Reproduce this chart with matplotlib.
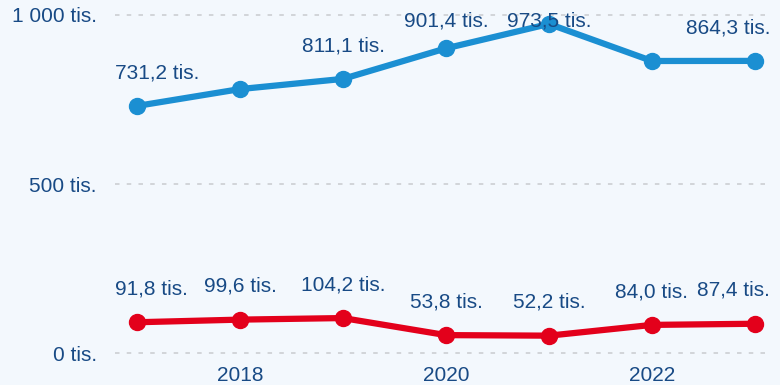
import matplotlib
matplotlib.use("Agg")
import matplotlib.pyplot as plt

years = [2017, 2018, 2019, 2020, 2021, 2022, 2023]
blue_values = [731.2, 781.0, 811.1, 901.4, 973.5, 864.0, 864.3]
blue_show_label = [True, False, True, True, True, False, True]
red_values = [91.8, 99.6, 104.2, 53.8, 52.2, 84.0, 87.4]
red_show_label = [True, True, True, True, True, True, True]
y_ticks = [0, 500, 1000]
x_ticks = [2018, 2020, 2022]

BG = "#f3f8fd"
TEXT = "#184a85"
BLUE = "#1b8fd2"
RED = "#e3001b"
DPI = 100


def fmt_value(v):
    # decimal comma, as in Czech
    return f"{v:.1f}".replace(".", ",") + " tis."


def fmt_tick(v):
    # space as thousands separator
    return f"{int(v):,}".replace(",", " ") + " tis."


plt.rcParams["font.family"] = ["Liberation Sans", "DejaVu Sans"]

fig = plt.figure(figsize=(7.8, 3.85), dpi=DPI, facecolor=BG)
W, H = 780, 385
left, right = 115, 770
top, bottom = 11.6, 356.7
ax = fig.add_axes([left / W, 1 - bottom / H, (right - left) / W, (bottom - top) / H])
ax.set_facecolor(BG)

ax.set_xlim(2016.786, 2023.146)
ax.set_ylim(-10, 1010)

for y in y_ticks:
    ax.axhline(y, color="#cfd2d6", lw=1.3, ls=(0, (2.5, 4)), zorder=1)

anns = []
for vals, show, col in [(blue_values, blue_show_label, BLUE),
                        (red_values, red_show_label, RED)]:
    ax.plot(years, vals, color=col, lw=4.5, marker="o", ms=11.5,
            solid_capstyle="round", clip_on=False, zorder=3)
    for x, v, s in zip(years, vals, show):
        if not s:
            continue
        a = ax.annotate(fmt_value(v), xy=(x, v), xytext=(0, 24), textcoords="offset points",
                        ha="center", va="center", fontsize=15, color=TEXT, zorder=4)
        anns.append(a)

ax.set_yticks(y_ticks)
ax.set_yticklabels([fmt_tick(v) for v in y_ticks])
ax.set_xticks(x_ticks)
ax.set_xticklabels([str(x) for x in x_ticks])
ax.tick_params(axis="both", length=0, labelsize=15, labelcolor=TEXT)
ax.tick_params(axis="y", pad=13)
ax.tick_params(axis="x", pad=7)
for sp in ax.spines.values():
    sp.set_visible(False)

# keep data labels inside the plot area
fig.canvas.draw()
renderer = fig.canvas.get_renderer()
abb = ax.get_window_extent(renderer)
for a in anns:
    bb = a.get_window_extent(renderer)
    dx = dy = 0.0
    if bb.x0 < abb.x0:
        dx = abb.x0 - bb.x0
    elif bb.x1 > abb.x1:
        dx = abb.x1 - bb.x1
    if bb.y1 > abb.y1:
        dy = abb.y1 - bb.y1
    ox, oy = a.xyann
    a.xyann = (ox + dx * 72 / DPI, oy + dy * 72 / DPI)

fig.savefig("out.png", dpi=DPI, facecolor=BG)
